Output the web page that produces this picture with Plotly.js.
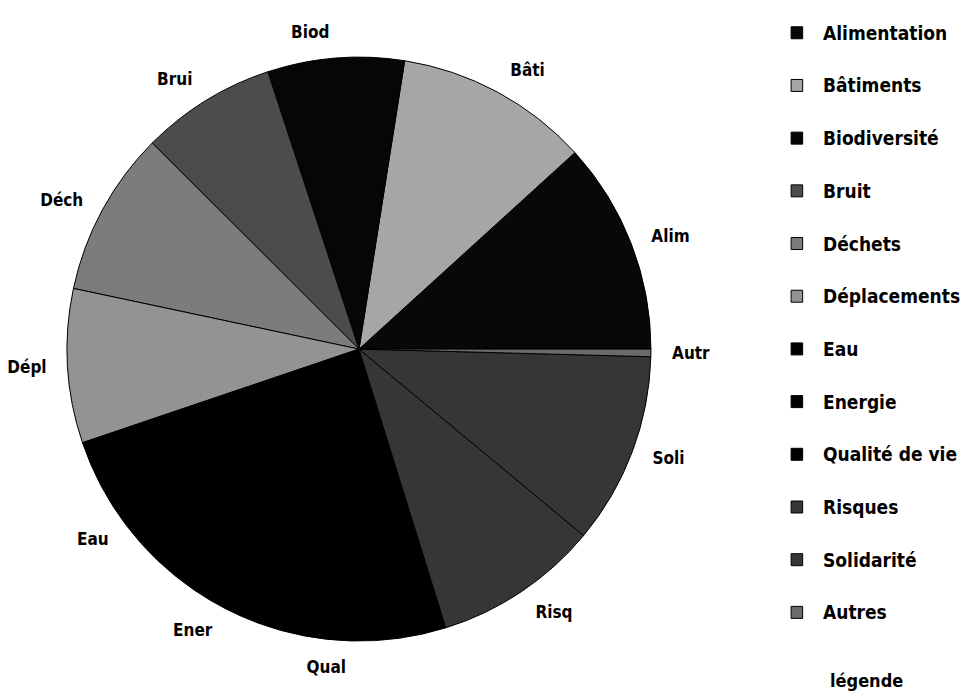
<!DOCTYPE html>
<html>
<head>
<meta charset="utf-8">
<script src="https://cdn.plot.ly/plotly-3.0.1.min.js"></script>
<style>html,body{margin:0;padding:0;background:#fff;}#chart{width:963px;height:697px;}</style>
</head>
<body>
<div id="chart"></div>
<script>
// Data (share of the pie, in degrees of arc)
var categories = ['Alimentation','Bâtiments','Biodiversité','Bruit','Déchets','Déplacements','Eau','Energie','Qualité de vie','Risques','Solidarité','Autres'];
var shortLabels = ['Alim','Bâti','Biod','Brui','Déch','Dépl','Eau','Ener','Qual','Risq','Soli','Autr'];
var values = [42.3, 38.7, 27.2, 26.9, 32.9, 30.7, 37.0, 14.0, 37.6, 33.0, 38.2, 1.5];
var colors = ['#080808','#a6a6a6','#060606','#4c4c4c','#7c7c7c','#939393','#000000','#000000','#000000','#363636','#363636','#6a6a6a'];

var FONT = '"DejaVu Sans Condensed","Liberation Sans Narrow","Arial Narrow",sans-serif';

var common = {
  type: 'pie',
  labels: categories,
  values: values,
  sort: false,
  direction: 'counterclockwise',
  rotation: 47.7,
  showlegend: false
};

// visible pie
var pie = Object.assign({}, common, {
  textinfo: 'none',
  hoverinfo: 'label+percent',
  marker: {colors: colors, line: {color: '#000000', width: 1}},
  domain: {x: [0.0696, 0.676], y: [0.0803, 0.918]}
});

// transparent, slightly larger pie that only carries the slice labels a bit away from the rim
var labelPie = Object.assign({}, common, {
  text: shortLabels,
  textinfo: 'text',
  textposition: 'outside',
  hoverinfo: 'skip',
  marker: {colors: categories.map(function(){return 'rgba(0,0,0,0)';}), line: {width: 0}},
  textfont: {family: FONT, size: 17, color: '#000000', weight: 'bold'},
  domain: {x: [0.0530, 0.6927], y: [0.0560, 0.9430]}
});

// Custom legend built from the category list
var shapes = [];
var annotations = [];
var legTop = 0.953, legStep = 0.0756;
for (var i = 0; i < categories.length; i++) {
  var yc = legTop - i * legStep;
  shapes.push({type: 'rect', xref: 'paper', yref: 'paper',
    x0: 0.8215, x1: 0.8335, y0: yc - 0.0086, y1: yc + 0.0086,
    fillcolor: colors[i], line: {color: '#000', width: 1}});
  annotations.push({xref: 'paper', yref: 'paper', x: 0.853, y: yc,
    xanchor: 'left', yanchor: 'middle', showarrow: false, text: categories[i],
    font: {family: FONT, size: 19, color: '#000', weight: 'bold'}});
}
annotations.push({xref: 'paper', yref: 'paper', x: 0.9, y: 0.024,
  xanchor: 'center', yanchor: 'middle', showarrow: false, text: 'légende',
  font: {family: FONT, size: 18, color: '#000', weight: 'bold'}});

var layout = {
  width: 963, height: 697,
  margin: {l: 0, r: 0, t: 0, b: 0},
  paper_bgcolor: '#ffffff',
  plot_bgcolor: '#ffffff',
  showlegend: false,
  shapes: shapes,
  annotations: annotations
};

Plotly.newPlot('chart', [pie, labelPie], layout, {displayModeBar: false, staticPlot: true});
</script>
</body>
</html>
